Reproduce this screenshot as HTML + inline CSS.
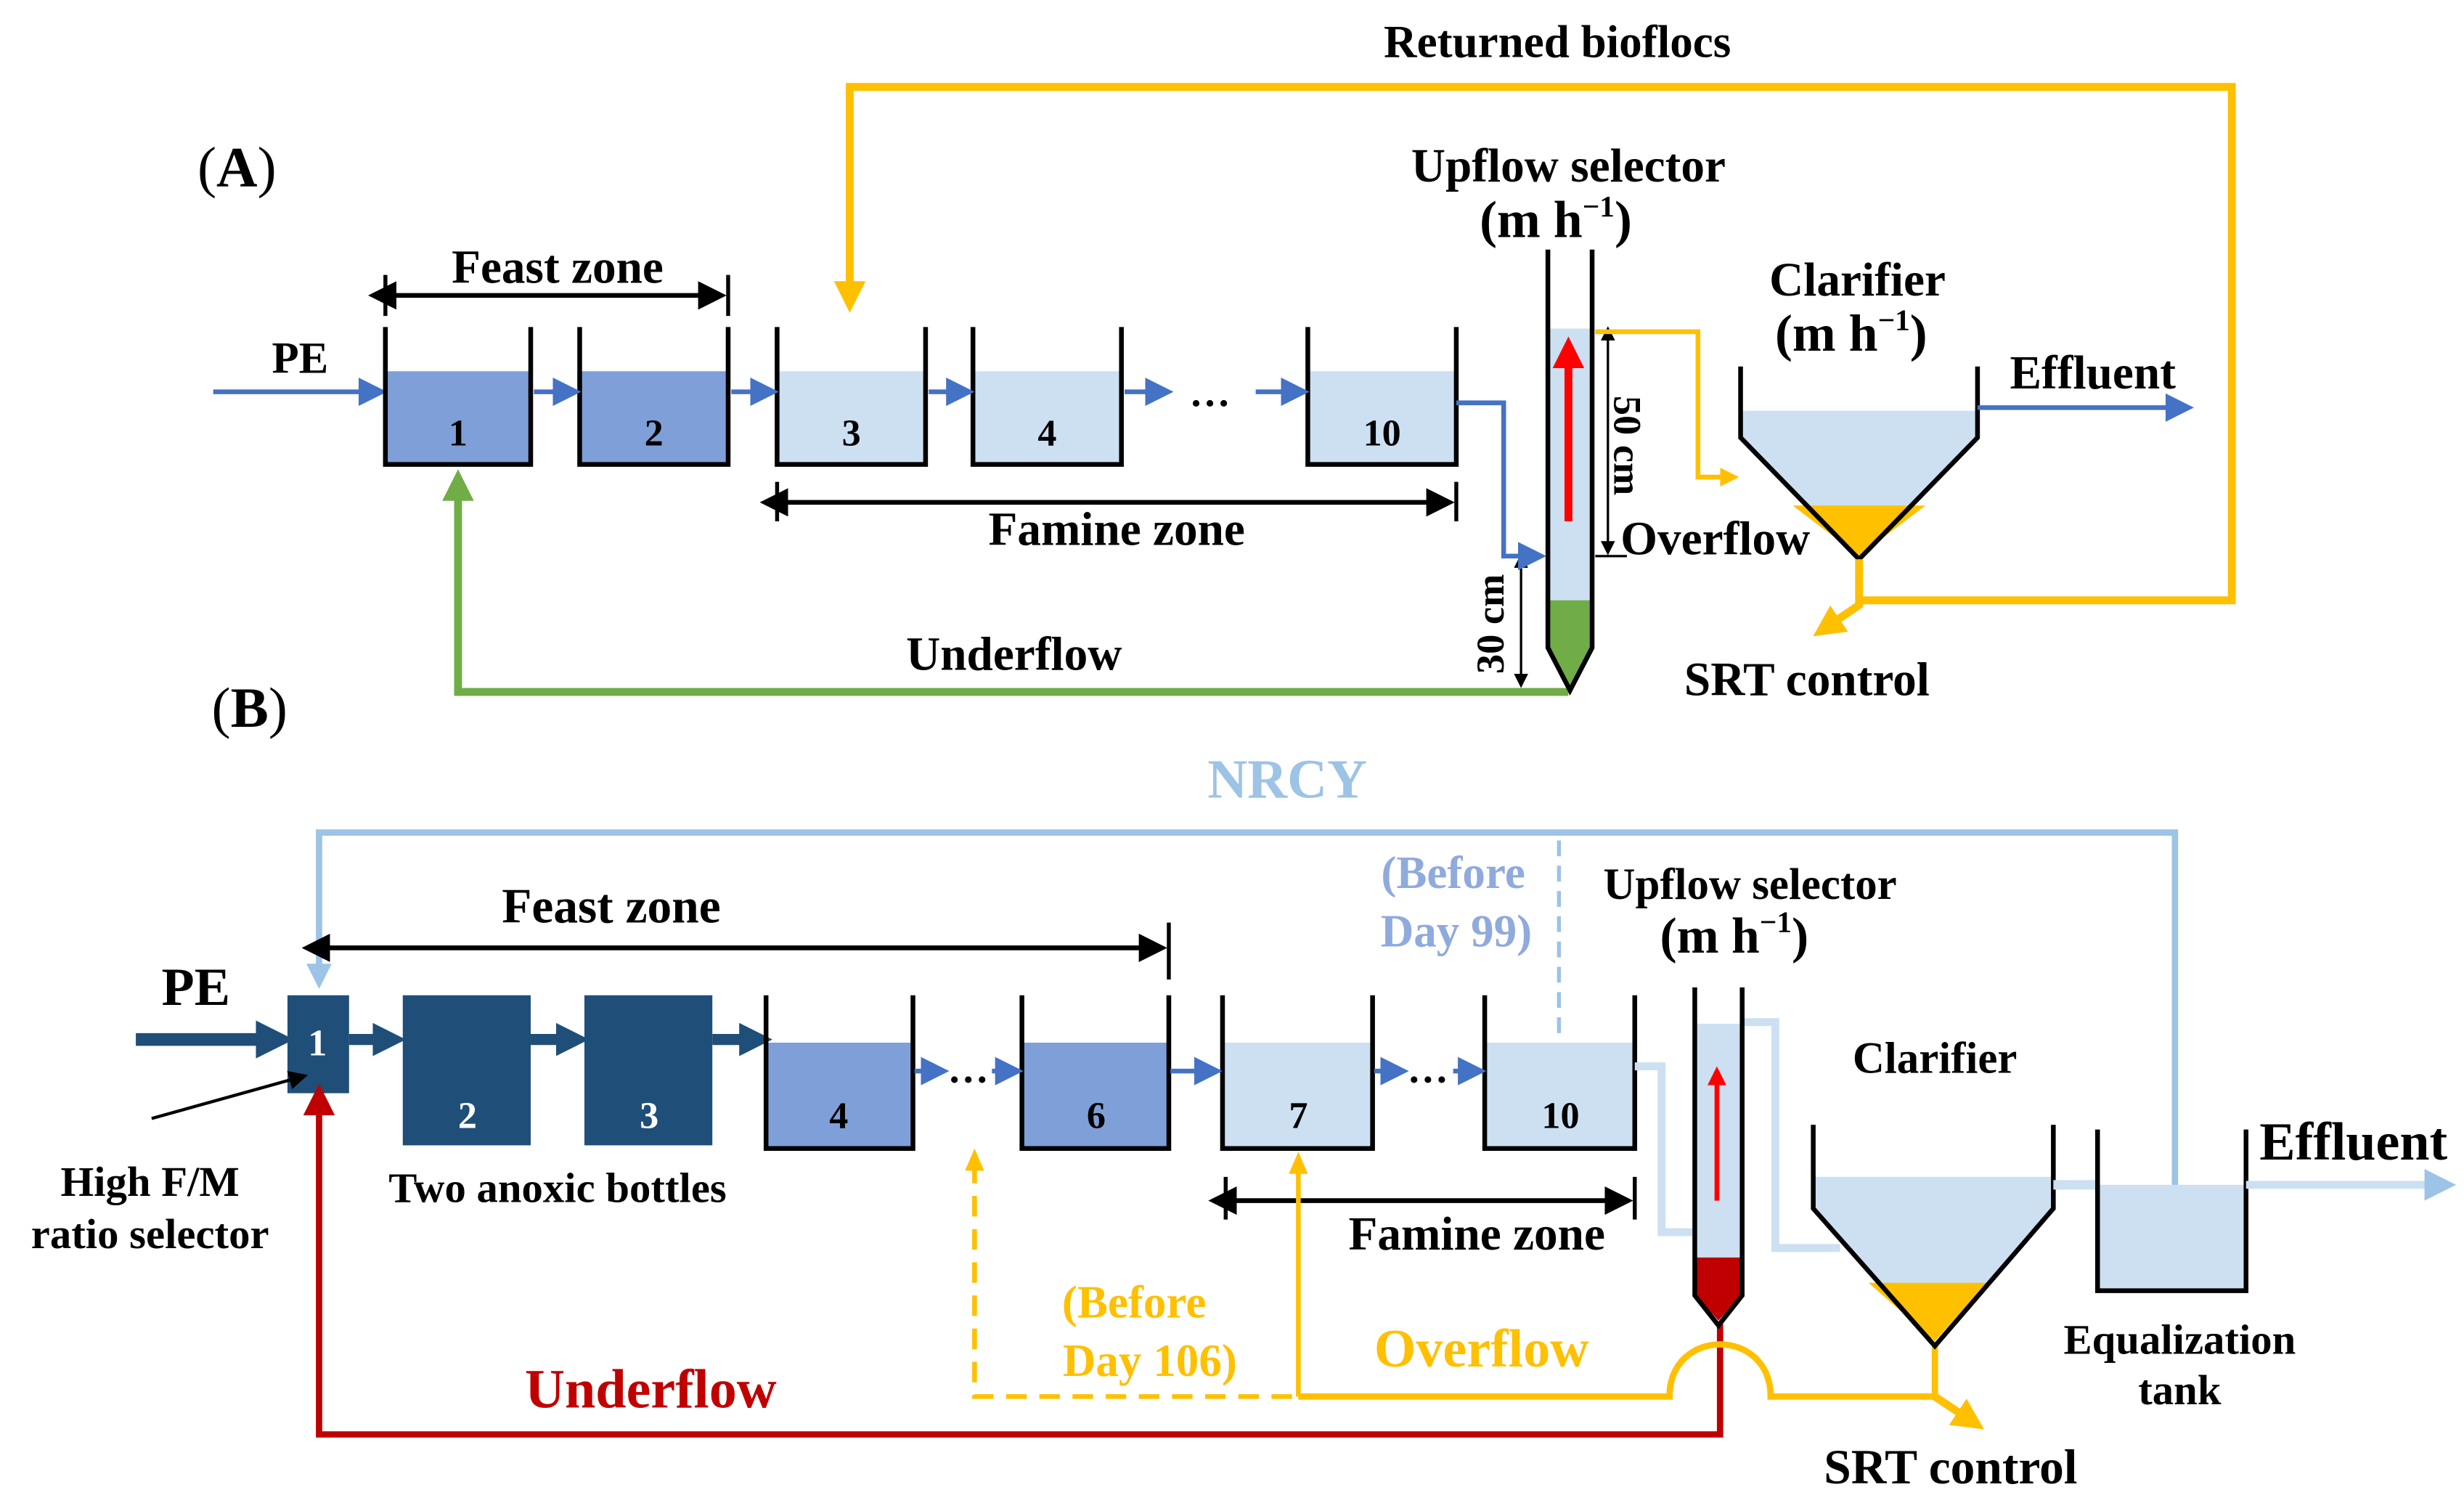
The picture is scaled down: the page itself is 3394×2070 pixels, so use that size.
<!DOCTYPE html>
<html><head><meta charset="utf-8"><style>
html,body{margin:0;padding:0;background:#fff;}
svg{display:block;}
text{font-family:"Liberation Serif",serif;font-weight:bold;}
</style></head><body>
<svg width="3394" height="2070" viewBox="0 0 1560 951.4" preserveAspectRatio="none" xmlns="http://www.w3.org/2000/svg">
<defs>
<marker id="ab" markerWidth="6" markerHeight="6" refX="5" refY="3" orient="auto" markerUnits="strokeWidth"><path d="M0,0 L6,3 L0,6 z" fill="#4472C4"/></marker>
<marker id="ay" markerWidth="4" markerHeight="4" refX="3" refY="2" orient="auto" markerUnits="strokeWidth"><path d="M0,0 L4,2 L0,4 z" fill="#FFC000"/></marker>
<marker id="ak" markerWidth="6" markerHeight="6" refX="5" refY="3" orient="auto" markerUnits="strokeWidth"><path d="M0,0 L6,3 L0,6 z" fill="#000"/></marker>
<marker id="ak0" markerWidth="6" markerHeight="6" refX="1" refY="3" orient="auto-start-reverse" markerUnits="strokeWidth"><path d="M0,0 L6,3 L0,6 z" fill="#000"/></marker>
<marker id="ar" markerWidth="5" markerHeight="5" refX="4" refY="2.5" orient="auto" markerUnits="strokeWidth"><path d="M0,0 L5,2.5 L0,5 z" fill="#C00000"/></marker>
<marker id="arr" markerWidth="4" markerHeight="4" refX="3" refY="2" orient="auto" markerUnits="strokeWidth"><path d="M0,0 L4,2 L0,4 z" fill="#FF0000"/></marker>
<marker id="al" markerWidth="4" markerHeight="4" refX="3" refY="2" orient="auto" markerUnits="strokeWidth"><path d="M0,0 L4,2 L0,4 z" fill="#9DC3E6"/></marker>
<marker id="ad" markerWidth="3" markerHeight="3" refX="2" refY="1.5" orient="auto" markerUnits="strokeWidth"><path d="M0,0 L3,1.5 L0,3 z" fill="#1F4E79"/></marker>
</defs>

<!-- ===== Panel A ===== -->
<text x="986" y="36" font-size="29" text-anchor="middle">Returned bioflocs</text>
<polyline points="538,190 538,55 1413,55 1413,380 1177,380" fill="none" stroke="#FFC000" stroke-width="5"/>
<path d="M538,198 l-10,-20 h20 z" fill="#FFC000"/>
<text x="125" y="118" font-size="36" style="font-weight:normal">(<tspan font-weight="bold">A</tspan>)</text>

<text x="353" y="179" font-size="30" text-anchor="middle">Feast zone</text>
<line x1="248" y1="187" x2="457" y2="187" stroke="#000" stroke-width="3" marker-start="url(#ak0)" marker-end="url(#ak)"/>
<line x1="244" y1="174" x2="244" y2="200" stroke="#000" stroke-width="2.5"/>
<line x1="461" y1="174" x2="461" y2="200" stroke="#000" stroke-width="2.5"/>

<text x="190" y="236" font-size="28" text-anchor="middle">PE</text>
<line x1="135" y1="248" x2="242" y2="248" stroke="#4472C4" stroke-width="3" marker-end="url(#ab)"/>

<g stroke="#000" stroke-width="3">
<rect x="245" y="235" width="90" height="58" fill="#7F9FD8" stroke="none"/>
<rect x="368" y="235" width="92" height="58" fill="#7F9FD8" stroke="none"/>
<rect x="493" y="235" width="92" height="58" fill="#CCE0F2" stroke="none"/>
<rect x="617" y="235" width="92" height="58" fill="#CCE0F2" stroke="none"/>
<rect x="829" y="235" width="92" height="58" fill="#CCE0F2" stroke="none"/>
<polyline points="244,207 244,294 336,294 336,207" fill="none"/>
<polyline points="367,207 367,294 461,294 461,207" fill="none"/>
<polyline points="492,207 492,294 586,294 586,207" fill="none"/>
<polyline points="616,207 616,294 710,294 710,207" fill="none"/>
<polyline points="828,207 828,294 922,294 922,207" fill="none"/>
</g>
<g font-size="24" text-anchor="middle">
<text x="290" y="282" font-weight="normal">1</text><text x="414" y="282" font-weight="normal">2</text>
<text x="539" y="282" font-weight="normal">3</text><text x="663" y="282" font-weight="normal">4</text>
<text x="875" y="282" font-weight="normal">10</text>
</g>
<g stroke="#4472C4" stroke-width="3">
<line x1="338" y1="248" x2="365" y2="248" marker-end="url(#ab)"/>
<line x1="463" y1="248" x2="490" y2="248" marker-end="url(#ab)"/>
<line x1="588" y1="248" x2="614" y2="248" marker-end="url(#ab)"/>
<line x1="712" y1="248" x2="740" y2="248" marker-end="url(#ab)"/>
<line x1="795" y1="248" x2="826" y2="248" marker-end="url(#ab)"/>
</g>
<text x="766" y="257" font-size="26" text-anchor="middle">…</text>

<line x1="496" y1="318" x2="918" y2="318" stroke="#000" stroke-width="3" marker-start="url(#ak0)" marker-end="url(#ak)"/>
<line x1="492" y1="305" x2="492" y2="330" stroke="#000" stroke-width="2.5"/>
<line x1="922" y1="305" x2="922" y2="330" stroke="#000" stroke-width="2.5"/>
<text x="707" y="345" font-size="30" text-anchor="middle">Famine zone</text>

<polyline points="290,305 290,438 993,438" fill="none" stroke="#70AD47" stroke-width="5"/>
<path d="M290,297 l-10,20 h20 z" fill="#70AD47"/>
<text x="642" y="424" font-size="30" text-anchor="middle">Underflow</text>

<!-- upflow selector A -->
<text x="993" y="115" font-size="30" text-anchor="middle">Upflow selector</text>
<text x="985" y="150" font-size="33" text-anchor="middle">(m h<tspan font-size="19" dy="-13">−1</tspan><tspan dy="13">)</tspan></text>
<rect x="981" y="208" width="26" height="172" fill="#CCE0F2"/>
<path d="M981,380 H1007 V410 L994,435 L981,410 Z" fill="#70AD47"/>
<polyline points="980,158 980,410 994,437 1008,410 1008,158" fill="none" stroke="#000" stroke-width="3"/>
<line x1="993" y1="330" x2="993" y2="218" stroke="#FF0000" stroke-width="5" marker-end="url(#arr)"/>
<line x1="1018" y1="214" x2="1018" y2="350" stroke="#000" stroke-width="1.5" marker-start="url(#ak0)" marker-end="url(#ak)"/>
<line x1="1010" y1="352" x2="1030" y2="352" stroke="#000" stroke-width="1.5"/>
<text transform="translate(1022,282) rotate(90)" font-size="25" text-anchor="middle">50 cm</text>
<line x1="963" y1="358" x2="963" y2="434" stroke="#000" stroke-width="1.5" marker-start="url(#ak0)" marker-end="url(#ak)"/>
<text transform="translate(952,395) rotate(-90)" font-size="25" text-anchor="middle">30 cm</text>
<polyline points="922,255 952,255 952,352 976,352" fill="none" stroke="#4472C4" stroke-width="3" marker-end="url(#ab)"/>
<text x="1086" y="351" font-size="30" text-anchor="middle">Overflow</text>
<polyline points="1010,210 1075,210 1075,302 1098,302" fill="none" stroke="#FFC000" stroke-width="3" marker-end="url(#ay)"/>

<!-- clarifier A -->
<text x="1176" y="187" font-size="30" text-anchor="middle">Clarifier</text>
<text x="1172" y="222" font-size="33" text-anchor="middle">(m h<tspan font-size="19" dy="-13">−1</tspan><tspan dy="13">)</tspan></text>
<path d="M1103,260 H1251 V277 L1177,352 L1103,277 Z" fill="#CCE0F2"/>
<path d="M1135,320 H1219 L1177,352 Z" fill="#FFC000"/>
<polyline points="1102,232 1102,277 1177,354 1252,277 1252,232" fill="none" stroke="#000" stroke-width="3"/>
<text x="1325" y="246" font-size="30" text-anchor="middle">Effluent</text>
<line x1="1252" y1="258" x2="1386" y2="258" stroke="#4472C4" stroke-width="3" marker-end="url(#ab)"/>
<polyline points="1177,354 1177,383 1152,400" fill="none" stroke="#FFC000" stroke-width="5" marker-end="url(#ay)"/>
<text x="1144" y="440" font-size="30" text-anchor="middle">SRT control</text>

<!-- ===== Panel B ===== -->
<text x="134" y="460" font-size="36" style="font-weight:normal">(<tspan font-weight="bold">B</tspan>)</text>
<text x="815" y="505" font-size="35" fill="#9DC3E6" text-anchor="middle">NRCY</text>
<polyline points="1377,750 1377,527 202,527 202,622" fill="none" stroke="#9DC3E6" stroke-width="4" marker-end="url(#al)"/>
<line x1="987" y1="532" x2="987" y2="662" stroke="#9DC3E6" stroke-width="2.5" stroke-dasharray="10,6"/>
<text x="920" y="562" font-size="29" fill="#8FAADC" text-anchor="middle">(Before</text>
<text x="922" y="599" font-size="29" fill="#8FAADC" text-anchor="middle">Day 99)</text>

<text x="387" y="584" font-size="31" text-anchor="middle">Feast zone</text>
<line x1="206" y1="600" x2="736" y2="600" stroke="#000" stroke-width="3" marker-start="url(#ak0)" marker-end="url(#ak)"/>
<line x1="740" y1="584" x2="740" y2="620" stroke="#000" stroke-width="2.5"/>

<text x="124" y="636" font-size="34" text-anchor="middle">PE</text>
<line x1="86" y1="658" x2="178" y2="658" stroke="#1F4E79" stroke-width="8" marker-end="url(#ad)"/>
<rect x="182" y="630" width="39" height="62" fill="#1F4E79"/>
<rect x="255" y="630" width="81" height="95" fill="#1F4E79"/>
<rect x="370" y="630" width="81" height="95" fill="#1F4E79"/>
<g stroke="#1F4E79" stroke-width="7">
<line x1="221" y1="658" x2="250" y2="658" marker-end="url(#ad)"/>
<line x1="336" y1="658" x2="366" y2="658" marker-end="url(#ad)"/>
<line x1="451" y1="658" x2="482" y2="658" marker-end="url(#ad)"/>
</g>
<g fill="#fff" font-size="24" text-anchor="middle">
<text x="201" y="668" font-weight="normal">1</text>
<text x="296" y="714" font-weight="normal">2</text>
<text x="411" y="714" font-weight="normal">3</text>
</g>

<rect x="486" y="660" width="91" height="66" fill="#7F9FD8"/>
<rect x="648" y="660" width="91" height="66" fill="#7F9FD8"/>
<rect x="775" y="660" width="93" height="66" fill="#CCE0F2"/>
<rect x="941" y="660" width="93" height="66" fill="#CCE0F2"/>
<g stroke="#000" stroke-width="3" fill="none">
<polyline points="485,630 485,727 578,727 578,630"/>
<polyline points="647,630 647,727 740,727 740,630"/>
<polyline points="774,630 774,727 869,727 869,630"/>
<polyline points="940,630 940,727 1035,727 1035,630"/>
</g>
<g font-size="24" text-anchor="middle">
<text x="531" y="714" font-weight="normal">4</text><text x="694" y="714" font-weight="normal">6</text>
<text x="822" y="714" font-weight="normal">7</text><text x="988" y="714" font-weight="normal">10</text>
</g>
<g stroke="#4472C4" stroke-width="3">
<line x1="579" y1="678" x2="598" y2="678" marker-end="url(#ab)"/>
<line x1="628" y1="678" x2="645" y2="678" marker-end="url(#ab)"/>
<line x1="741" y1="678" x2="771" y2="678" marker-end="url(#ab)"/>
<line x1="870" y1="678" x2="889" y2="678" marker-end="url(#ab)"/>
<line x1="920" y1="678" x2="938" y2="678" marker-end="url(#ab)"/>
</g>
<text x="613" y="685" font-size="26" text-anchor="middle">…</text>
<text x="904" y="685" font-size="26" text-anchor="middle">…</text>

<text x="353" y="761" font-size="27" text-anchor="middle">Two anoxic bottles</text>
<text x="95" y="757" font-size="27" text-anchor="middle">High F/M</text>
<text x="95" y="790" font-size="27" text-anchor="middle">ratio selector</text>
<line x1="96" y1="708" x2="193" y2="681" stroke="#000" stroke-width="2" marker-end="url(#ak)"/>

<line x1="780" y1="760" x2="1031" y2="760" stroke="#000" stroke-width="3" marker-start="url(#ak0)" marker-end="url(#ak)"/>
<line x1="776" y1="745" x2="776" y2="772" stroke="#000" stroke-width="2.5"/>
<line x1="1035" y1="745" x2="1035" y2="772" stroke="#000" stroke-width="2.5"/>
<text x="935" y="791" font-size="30" text-anchor="middle">Famine zone</text>

<polyline points="1089,838 1089,908 202,908 202,690" fill="none" stroke="#C00000" stroke-width="4" marker-end="url(#ar)"/>
<text x="412" y="891" font-size="35" fill="#C00000" text-anchor="middle">Underflow</text>

<polyline points="617,736 617,884 822,884" fill="none" stroke="#FFC000" stroke-width="3" stroke-dasharray="13,8"/>
<path d="M617,727 l-6,14 h12 z" fill="#FFC000"/>
<polyline points="822,884 822,738" fill="none" stroke="#FFC000" stroke-width="3"/>
<path d="M822,729 l-6,14 h12 z" fill="#FFC000"/>
<path d="M822,884 H1057 C1057,840 1121,840 1121,884 H1225 V850" fill="none" stroke="#FFC000" stroke-width="4"/>
<polyline points="1225,884 1252,902" fill="none" stroke="#FFC000" stroke-width="5" marker-end="url(#ay)"/>
<text x="718" y="834" font-size="29" fill="#FFC000" text-anchor="middle">(Before</text>
<text x="728" y="871" font-size="29" fill="#FFC000" text-anchor="middle">Day 106)</text>
<text x="938" y="865" font-size="34" fill="#FFC000" text-anchor="middle">Overflow</text>

<!-- upflow selector B -->
<text x="1108" y="569" font-size="28" text-anchor="middle">Upflow selector</text>
<text x="1098" y="603" font-size="32" text-anchor="middle">(m h<tspan font-size="19" dy="-13">−1</tspan><tspan dy="13">)</tspan></text>
<polyline points="1035,675 1052,675 1052,780 1072,780" fill="none" stroke="#CCE0F2" stroke-width="5"/>
<polyline points="1103,647 1124,647 1124,790 1165,790" fill="none" stroke="#CCE0F2" stroke-width="5"/>
<rect x="1074" y="648" width="28" height="148" fill="#CCE0F2"/>
<path d="M1074,796 H1102 V820 L1088,836 L1074,820 Z" fill="#C00000"/>
<polyline points="1073,625 1073,820 1088,839 1103,820 1103,625" fill="none" stroke="#000" stroke-width="3"/>
<line x1="1087" y1="760" x2="1087" y2="678" stroke="#FF0000" stroke-width="3" marker-end="url(#arr)"/>

<!-- clarifier B -->
<text x="1225" y="679" font-size="28" text-anchor="middle">Clarifier</text>
<path d="M1149,745 H1299 V765 L1225,849 L1149,765 Z" fill="#CCE0F2"/>
<path d="M1183,812 H1258 L1225,849 Z" fill="#FFC000"/>
<polyline points="1148,712 1148,765 1225,852 1300,765 1300,712" fill="none" stroke="#000" stroke-width="3"/>
<line x1="1300" y1="750" x2="1329" y2="750" stroke="#CCE0F2" stroke-width="6"/>
<rect x="1329" y="750" width="92" height="66" fill="#CCE0F2"/>
<polyline points="1328,715 1328,817 1422,817 1422,715" fill="none" stroke="#000" stroke-width="3"/>
<line x1="1377" y1="750" x2="1377" y2="527" stroke="#9DC3E6" stroke-width="3"/>
<line x1="1422" y1="750" x2="1550" y2="750" stroke="#CCE0F2" stroke-width="5" marker-end="url(#al)"/>
<text x="1490" y="734" font-size="34" text-anchor="middle">Effluent</text>
<text x="1380" y="857" font-size="27" text-anchor="middle">Equalization</text>
<text x="1380" y="889" font-size="27" text-anchor="middle">tank</text>
<text x="1235" y="939" font-size="31" text-anchor="middle">SRT control</text>
</svg>
</body></html>
